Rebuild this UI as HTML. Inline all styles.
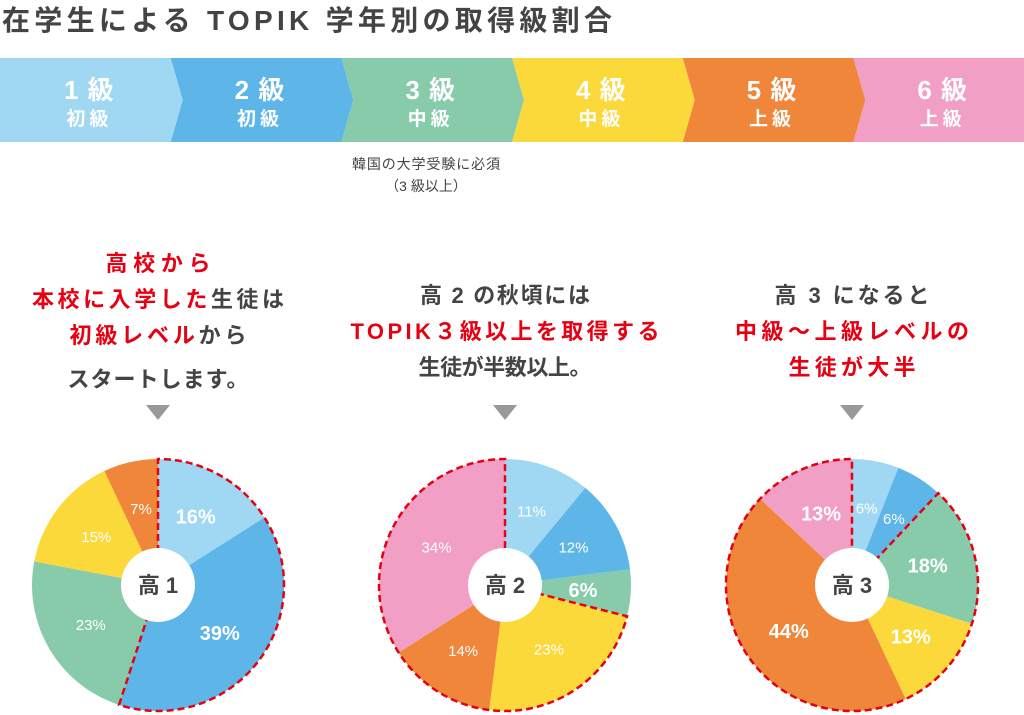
<!DOCTYPE html>
<html><head><meta charset="utf-8"><style>
body{margin:0;background:#fff;width:1024px;height:715px;overflow:hidden;font-family:"Liberation Sans","Noto Sans CJK JP",sans-serif}
svg{display:block}
text{font-family:"Liberation Sans","Noto Sans CJK JP",sans-serif}
</style></head><body>
<svg id="chart" width="1024" height="715">
<text x="2" y="30" font-size="28" font-weight="bold" fill="#444" textLength="610" lengthAdjust="spacing">在学生による TOPIK 学年別の取得級割合</text>
<g id="banner"></g>
<text x="426" y="169" font-size="14" fill="#444" text-anchor="middle" textLength="148" lengthAdjust="spacing">韓国の大学受験に必須</text>
<text x="426" y="191" font-size="14" fill="#444" text-anchor="middle">（3 級以上）</text>
<g id="captions"></g>
<g id="pies"></g>
</svg>
<script>
const levels=['1級','2級','3級','4級','5級','6級'];
const levelSub=['初級','初級','中級','中級','上級','上級'];
const colors=['#a0d8f3','#5db5e8','#88cbab','#fcd93a','#f0863a','#f19fc4'];
const grades=['高 1','高 2','高 3'];
const pie1=[16,39,23,15,7,0];
const pie2=[11,12,6,23,14,34];
const pie3=[6,6,18,13,44,13];
const bold1=[1,1,0,0,0,0];
const bold2=[0,0,1,0,0,0];
const bold3=[0,0,1,1,1,1];
const dash1=[0,55];
const dash2=[29,100];
const dash3=[12,100];
const NS='http://www.w3.org/2000/svg';
function el(t,a,p){const e=document.createElementNS(NS,t);for(const k in a)e.setAttribute(k,a[k]);p.appendChild(e);return e;}
const bn=document.getElementById('banner');
const segW=1024/6,by=58,bh=84,d=12;
for(let i=5;i>=0;i--){
  const x0=i*segW,x1=(i+1)*segW;
  const right=i===5?`${x1},${by} ${x1},${by+bh}`:`${x1},${by} ${x1+d},${by+bh/2} ${x1},${by+bh}`;
  const pts=i===0?`${x0},${by} ${right} ${x0},${by+bh}`:`${x0},${by} ${right} ${x0},${by+bh} ${x0+d},${by+bh/2}`;
  const p=el('polygon',{points:pts,fill:colors[i]},bn);
  
  
  const cx=x0+segW/2+4;
  const t1=el('text',{x:cx,y:99,'font-size':26,'font-weight':'bold',fill:'#fff','text-anchor':'middle','letter-spacing':1},bn);
  t1.textContent=levels[i].replace('級',' 級');
  
  
  const t2=el('text',{x:cx,y:125,'font-size':19,'font-weight':'bold',fill:'#fff','text-anchor':'middle','letter-spacing':4},bn);
  t2.textContent=levelSub[i];
  
  
}
const R='#e60012',G='#444';
const caps=[
 [[['高校から',R]],[['本校に入学した',R],['生徒は',G]],[['初級レベル',R],['から',G]],[['スタートします。',G]]],
 [[['高 2 の秋頃には',G]],[['TOPIK３級以上を取得する',R]],[['生徒が半数以上。',G]]],
 [[['高 3 になると',G]],[['中級～上級レベルの',R]],[['生徒が大半',R]]]
];
const capW=[[105,252,177,181],[170,309,173],[155,234,127]];
const capY=[[271,307,343,387],[303,339,375],[303,339,375]];
const centers=[158,505,852];
const cg=document.getElementById('captions');
caps.forEach((lines,k)=>{
  lines.forEach((ln,j)=>{
    const t=el('text',{x:centers[k]-capW[k][j]/2,y:capY[k][j],'font-size':22,'font-weight':'bold',textLength:capW[k][j],lengthAdjust:'spacing'},cg);
    
    
    ln.forEach(([s,c])=>{const ts=el('tspan',{fill:c},t);ts.textContent=s;});
  });
  const tri=el('polygon',{points:`${centers[k]-12},${405} ${centers[k]+12},${405} ${centers[k]},${420}`,fill:'#999'},cg);
  
  
});
const pg=document.getElementById('pies');
const cy=585,r=126,ri=37;
function pt(cx,pct,rad){const a=pct/100*2*Math.PI;return [cx+rad*Math.sin(a),cy-rad*Math.cos(a)];}
function arc(cx,a,b){const [x0,y0]=pt(cx,a,r),[x1,y1]=pt(cx,b,r);const lg=(b-a)>50?1:0;return `M${cx},${cy} L${x0},${y0} A${r},${r} 0 ${lg} 1 ${x1},${y1} Z`;}
[[pie1,bold1,dash1],[pie2,bold2,dash2],[pie3,bold3,dash3]].forEach(([vals,bolds,dash],k)=>{
  const cx=centers[k];let acc=0;
  vals.forEach((v,i)=>{
    if(v<=0)return;
    const p=el('path',{d:arc(cx,acc,acc+v),fill:colors[i]},pg);
    
    
    const [lx,ly]=pt(cx,acc+v/2,r*0.62);
    const b=bolds[i];
    const t=el('text',{x:lx,y:ly+(b?7:5),'font-size':b?20:15,'font-weight':b?'bold':'normal',fill:'#fff','text-anchor':'middle'},pg);
    t.textContent=v+'%';
    
    
    acc+=v;
  });
  const [a,b]=dash;
  const [x0,y0]=pt(cx,a,r),[x1,y1]=pt(cx,b%100===0&&b>0?99.999:b,r);
  const dp=el('path',{d:`M${cx},${cy} L${x0},${y0} A${r},${r} 0 ${(b-a)>50?1:0} 1 ${x1},${y1} Z`,fill:'none',stroke:'#e60012','stroke-width':2.5,'stroke-dasharray':'7 4'},pg);
  
  
  const c=el('circle',{cx:cx,cy:cy,r:ri,fill:'#fff'},pg);
  
  
  const t=el('text',{x:cx,y:cy+8,'font-size':22,'font-weight':'bold',fill:'#444','text-anchor':'middle'},pg);
  t.textContent=grades[k];
  
  
});
</script>
</body></html>
